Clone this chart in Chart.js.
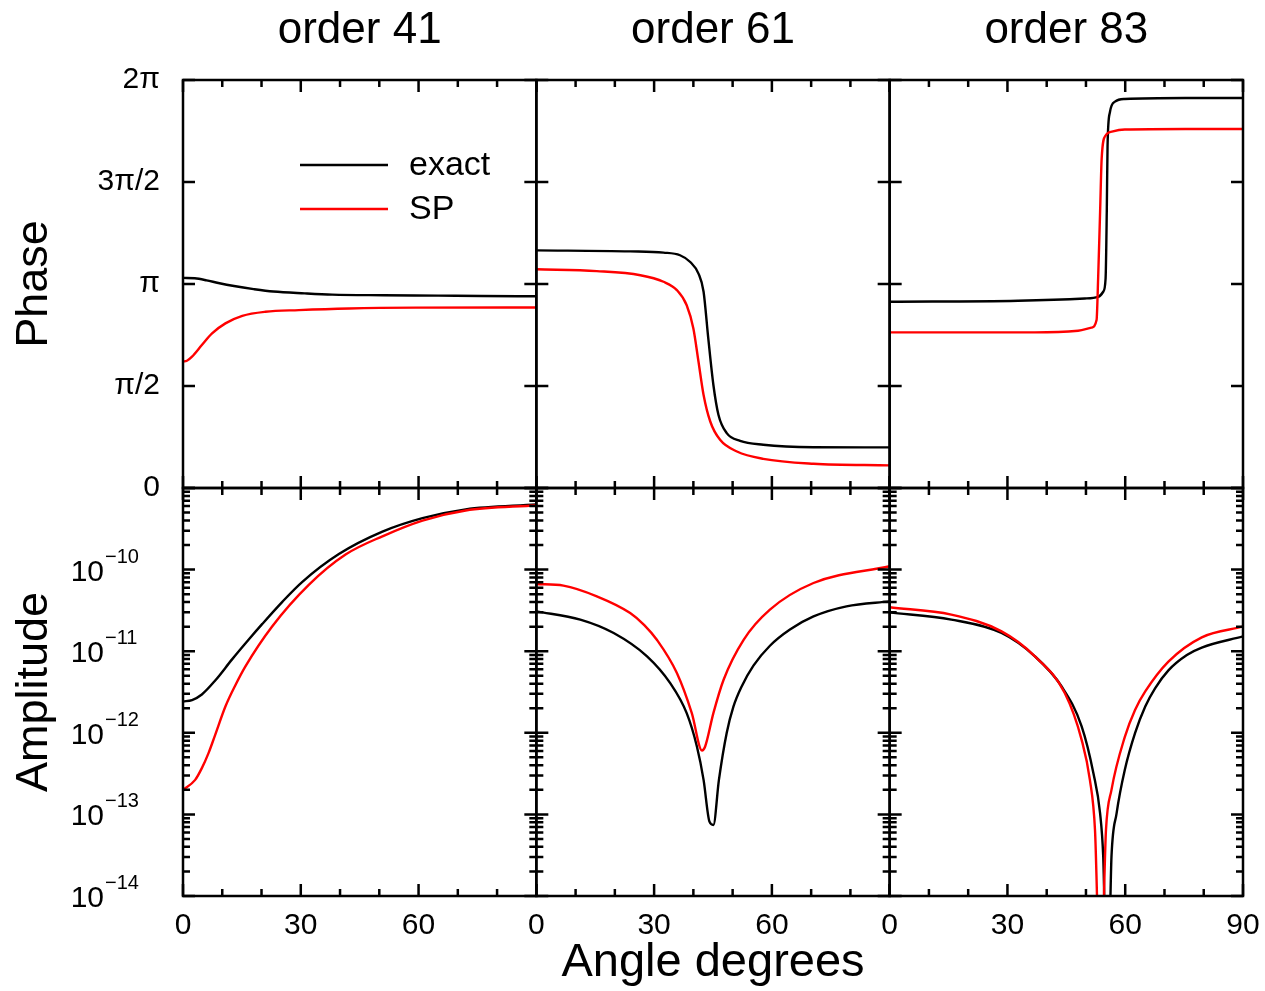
<!DOCTYPE html>
<html><head><meta charset="utf-8">
<script src="https://cdn.jsdelivr.net/npm/chart.js@4.4.1/dist/chart.umd.min.js"></script>
<style>html,body{margin:0;padding:0;background:#fff;}canvas{display:block;}</style>
</head><body>
<canvas id="c" width="1265" height="991"></canvas>
<script>
const FONT = "'Liberation Sans', Arial, Helvetica, sans-serif";

// ---- text / tick definitions ----
const columnTitles = ['order 41', 'order 61', 'order 83'];
const seriesNames = ['exact', 'SP'];
const seriesColors = ['#000000', '#ff0000'];
const xTitle = 'Angle degrees';
const phaseTitle = 'Phase';
const ampTitle = 'Amplitude';
const xTickValues = [0, 10, 20, 30, 40, 50, 60, 70, 80, 90];
const xMajorTicks = [0, 30, 60, 90];
const xLabelsInner = [0, 30, 60];
const xLabelsLast = [0, 30, 60, 90];
const phaseTickValues = [0, 0.5, 1, 1.5, 2];          // multiples of pi
const phaseTickLabels = ['0', 'π/2', 'π', '3π/2', '2π'];
const ampDecades = [-14, -13, -12, -11, -10, -9];
const ampLabelExponents = [-14, -13, -12, -11, -10];
const ampMinorMultipliers = [2, 3, 4, 5, 6, 7, 8, 9];

// ---- phase data (units of pi) ----
const p41ExactDeg = [0, 3, 6, 9, 13, 18, 23, 31, 38, 51, 65, 76, 90];
const p41Exact    = [1.030, 1.028, 1.018, 1.005, 0.990, 0.975, 0.963, 0.954, 0.948, 0.945, 0.943, 0.941, 0.940];
const p41SPDeg    = [0, 1, 2.3, 4.8, 7.4, 10.8, 15.1, 21, 29.5, 42.3, 59.3, 90];
const p41SP       = [0.620, 0.624, 0.644, 0.701, 0.758, 0.807, 0.844, 0.864, 0.872, 0.880, 0.884, 0.885];

const p61ExactDeg = [0, 23.9, 32.4, 36.6, 39.2, 41.3, 42.6, 43.8, 45.1, 46.4, 48.5, 51.9, 57.8, 70.6, 90];
const p61Exact    = [1.165, 1.160, 1.154, 1.141, 1.108, 1.051, 0.962, 0.733, 0.505, 0.358, 0.269, 0.231, 0.212, 0.200, 0.199];
const p61SPDeg    = [0, 15.4, 26.5, 32.4, 35.8, 38.3, 40.0, 41.3, 42.6, 44.3, 46.8, 51.1, 57.8, 70.6, 90];
const p61SP       = [1.072, 1.063, 1.043, 1.011, 0.970, 0.896, 0.782, 0.620, 0.456, 0.326, 0.236, 0.179, 0.143, 0.119, 0.111];

const p83ExactDeg = [0, 32.7, 49.7, 53.1, 54.4, 55.0, 55.3, 55.5, 56.1, 57.4, 59.9, 75.3, 90];
const p83Exact    = [0.913, 0.918, 0.929, 0.937, 0.962, 1.027, 1.353, 1.679, 1.842, 1.894, 1.907, 1.912, 1.912];
const p83SPDeg    = [0, 37, 48.0, 51.4, 52.7, 53.1, 53.6, 54.0, 55.0, 56.6, 59.9, 75.3, 90];
const p83SP       = [0.763, 0.763, 0.771, 0.786, 0.823, 1.027, 1.353, 1.614, 1.728, 1.747, 1.757, 1.760, 1.760];

// ---- amplitude data ----
const a41ExactDeg = [0, 2.3, 4.8, 8.2, 12.5, 16.8, 20.2, 25.3, 30.4, 39.7, 50.8, 61, 72, 90];
const a41Exact    = [2.42e-12, 2.52e-12, 2.95e-12, 4.37e-12, 7.94e-12, 1.40e-11, 2.16e-11, 4.03e-11, 7.08e-11, 1.55e-10, 2.92e-10, 4.27e-10, 5.47e-10, 6.28e-10];
const a41SPDeg    = [0, 3.1, 4.8, 6.5, 8.2, 10.8, 13.4, 15.9, 22.7, 32.1, 41.4, 50.8, 61, 72, 90];
const a41SP       = [2.00e-13, 2.65e-13, 3.69e-13, 5.64e-13, 9.44e-13, 2.10e-12, 3.88e-12, 6.52e-12, 2.01e-11, 6.55e-11, 1.53e-10, 2.56e-10, 3.99e-10, 5.30e-10, 6.15e-10];

const a61ExactDeg = [0, 11.2, 19.7, 28.2, 34.1, 38.3, 40.9, 42.6, 44.1, 45.1, 46.5, 48.5, 50.2, 52.3, 55.3, 59.5, 64.6, 70.6, 79.0, 90];
const a61Exact    = [3.08e-11, 2.44e-11, 1.67e-11, 8.65e-12, 4.06e-12, 1.74e-12, 6.79e-13, 2.65e-13, 8.16e-14, 7.43e-14, 2.63e-13, 1.00e-12, 2.09e-12, 3.70e-12, 6.65e-12, 1.167e-11, 1.845e-11, 2.67e-11, 3.55e-11, 4.08e-11];
const a61SPDeg    = [0, 6.9, 15.4, 23.9, 27.5, 30.7, 35.8, 39.6, 42.2, 43.0, 45.1, 47.7, 52.8, 59.5, 70.6, 90];
const a61SP       = [6.67e-11, 6.37e-11, 4.71e-11, 2.94e-11, 2.09e-11, 1.38e-11, 5.40e-12, 1.74e-12, 6.07e-13, 6.79e-13, 1.74e-12, 4.47e-12, 1.38e-11, 3.23e-11, 6.85e-11, 1.10e-10];

const a83ExactDeg = [0, 15.7, 28.5, 37.0, 43.8, 48.9, 51.9, 53.6, 54.4, 55.0, 55.9, 56.5, 57.8, 59.9, 62.5, 65.1, 67.6, 71.0, 75.7, 79.5, 90];
const a83Exact    = [2.99e-11, 2.44e-11, 1.67e-11, 8.65e-12, 3.70e-12, 1.20e-12, 3.20e-13, 1.03e-13, 3.04e-14, 3e-15, 3e-15, 3.04e-14, 1.03e-13, 3.52e-13, 9.9e-13, 2.10e-12, 3.51e-12, 5.83e-12, 8.99e-12, 1.109e-11, 1.52e-11];
const a83SPDeg    = [0, 15.7, 28.5, 37.0, 44.6, 48.9, 51.0, 52.3, 53.4, 54.0, 55.1, 56.5, 59.9, 62.5, 65.1, 71.0, 79.5, 90];
const a83SP       = [3.45e-11, 2.81e-11, 1.75e-11, 8.65e-12, 3.07e-12, 8.20e-13, 2.65e-13, 6.46e-14, 2e-15, 2e-15, 6.46e-14, 2.00e-13, 8.91e-13, 1.905e-12, 3.21e-12, 7.45e-12, 1.48e-11, 2.00e-11];

// ---- assemble datasets ----
function pts(xs, ys) { return xs.map((x, i) => ({ x: x, y: ys[i] })); }
const panelSeries = [
  { xAxis: 'x1', phase: [[p41ExactDeg, p41Exact], [p41SPDeg, p41SP]], amp: [[a41ExactDeg, a41Exact], [a41SPDeg, a41SP]] },
  { xAxis: 'x2', phase: [[p61ExactDeg, p61Exact], [p61SPDeg, p61SP]], amp: [[a61ExactDeg, a61Exact], [a61SPDeg, a61SP]] },
  { xAxis: 'x3', phase: [[p83ExactDeg, p83Exact], [p83SPDeg, p83SP]], amp: [[a83ExactDeg, a83Exact], [a83SPDeg, a83SP]] }
];
const datasets = [];
panelSeries.forEach(p => {
  [['phase', 'yP'], ['amp', 'yA']].forEach(([key, yId]) => {
    p[key].forEach((s, k) => {
      datasets.push({
        label: seriesNames[k],
        data: pts(s[0], s[1]),
        xAxisID: p.xAxis, yAxisID: yId,
        borderColor: seriesColors[k], backgroundColor: seriesColors[k],
        borderWidth: 2.4, pointRadius: 0, fill: false,
        cubicInterpolationMode: 'monotone',
        order: k === 0 ? 1 : 0
      });
    });
  });
});

function xScale(labels) {
  return {
    type: 'linear', position: 'bottom', stack: 'cols', stackWeight: 1,
    min: 0, max: 90,
    grid: { display: false, drawTicks: false }, border: { display: false },
    afterBuildTicks: s => { s.ticks = xTickValues.map(v => ({ value: v })); },
    afterFit: s => { s.height = 95; s.paddingLeft = 0; s.paddingRight = 0; },
    ticks: {
      autoSkip: false, maxRotation: 0, padding: 12, color: '#000',
      font: { family: FONT, size: 30 },
      callback: v => labels.includes(v) ? String(v) : ''
    }
  };
}
const xs1 = xScale(xLabelsInner), xs2 = xScale(xLabelsInner), xs3 = xScale(xLabelsLast);
xs2.title = { display: true, text: xTitle, color: '#000', font: { family: FONT, size: 47 }, padding: { top: 0, bottom: 0 } };

const framePlugin = {
  id: 'frame',
  afterDatasetsDraw(chart) {
    const ctx = chart.ctx, s = chart.scales;
    const xsArr = [s.x1, s.x2, s.x3], ysArr = [s.yP, s.yA];
    ctx.save();
    ctx.strokeStyle = '#000';
    ctx.lineWidth = 2.5;
    for (const xa of xsArr) for (const ya of ysArr) {
      const L = xa.getPixelForValue(0), R = xa.getPixelForValue(90), T = ya.top, B = ya.bottom;
      ctx.strokeRect(L, T, R - L, B - T);
      ctx.beginPath();
      for (const t of xa.ticks) {
        const px = xa.getPixelForValue(t.value);
        const len = xMajorTicks.includes(t.value) ? 12 : 7;
        ctx.moveTo(px, B); ctx.lineTo(px, B - len);
        ctx.moveTo(px, T); ctx.lineTo(px, T + len);
      }
      for (const t of ya.ticks) {
        const py = ya.getPixelForValue(t.value);
        const len = t.major ? 12 : 7;
        ctx.moveTo(L, py); ctx.lineTo(L + len, py);
        ctx.moveTo(R, py); ctx.lineTo(R - len, py);
      }
      ctx.stroke();
    }
    // column titles
    ctx.fillStyle = '#000';
    ctx.textAlign = 'center';
    ctx.textBaseline = 'alphabetic';
    ctx.font = '44px ' + FONT;
    xsArr.forEach((xa, i) => ctx.fillText(columnTitles[i], (xa.left + xa.right) / 2, 43));
    // amplitude labels with superscript exponents
    const ya = s.yA;
    ampLabelExponents.forEach(e => {
      const py = ya.getPixelForValue(Math.pow(10, e));
      ctx.textAlign = 'right';
      ctx.font = '30px ' + FONT;
      ctx.fillText('10', ya.right - 79, py + 11);
      ctx.textAlign = 'left';
      ctx.font = '20px ' + FONT;
      ctx.fillText('\u2212' + Math.abs(e), ya.right - 78, py - 7);
    });
    // legend (inside first phase panel)
    const lx0 = s.x1.left + 117, lx1 = s.x1.left + 205, tx = s.x1.left + 226;
    const lys = [165, 209];
    ctx.font = '34px ' + FONT;
    ctx.textAlign = 'left';
    ctx.textBaseline = 'middle';
    ctx.lineWidth = 2.4;
    seriesNames.forEach((name, k) => {
      ctx.strokeStyle = seriesColors[k];
      ctx.beginPath(); ctx.moveTo(lx0, lys[k]); ctx.lineTo(lx1, lys[k]); ctx.stroke();
      ctx.fillStyle = '#000';
      ctx.fillText(name, tx, lys[k] + 1);
    });
    ctx.restore();
  }
};

new Chart(document.getElementById('c'), {
  type: 'line',
  data: { datasets: datasets },
  plugins: [framePlugin],
  options: {
    responsive: false, animation: false, devicePixelRatio: 1,
    layout: { padding: { top: 80, right: 22, bottom: 0, left: 0 } },
    plugins: { legend: { display: false }, tooltip: { enabled: false } },
    scales: {
      x1: xs1, x2: xs2, x3: xs3,
      yA: {
        type: 'logarithmic', position: 'left', stack: 'rows', stackWeight: 1,
        min: 1e-14, max: 1e-9,
        grid: { display: false, drawTicks: false }, border: { display: false },
        afterBuildTicks: s => {
          const t = [];
          ampDecades.forEach(e => {
            t.push({ value: Math.pow(10, e), major: true });
            if (e < -9) ampMinorMultipliers.forEach(m => t.push({ value: m * Math.pow(10, e), major: false }));
          });
          s.ticks = t;
        },
        afterFit: s => { s.width = 183; },
        ticks: { autoSkip: false, padding: 23, font: { family: FONT, size: 30 }, callback: () => '' },
        title: { display: true, text: ampTitle, color: '#000', font: { family: FONT, size: 45 }, padding: { top: 8, bottom: 0 } }
      },
      yP: {
        type: 'linear', position: 'left', stack: 'rows', stackWeight: 1,
        min: 0, max: 2,
        grid: { display: false, drawTicks: false }, border: { display: false },
        afterBuildTicks: s => { s.ticks = phaseTickValues.map(v => ({ value: v, major: true })); },
        afterFit: s => { s.width = 183; },
        ticks: {
          autoSkip: false, padding: 23, color: '#000', font: { family: FONT, size: 30 },
          callback: v => { const i = phaseTickValues.indexOf(v); return i >= 0 ? phaseTickLabels[i] : ''; }
        },
        title: { display: true, text: phaseTitle, color: '#000', font: { family: FONT, size: 45 }, padding: { top: 8, bottom: 0 } }
      }
    }
  }
});
</script>
</body></html>
